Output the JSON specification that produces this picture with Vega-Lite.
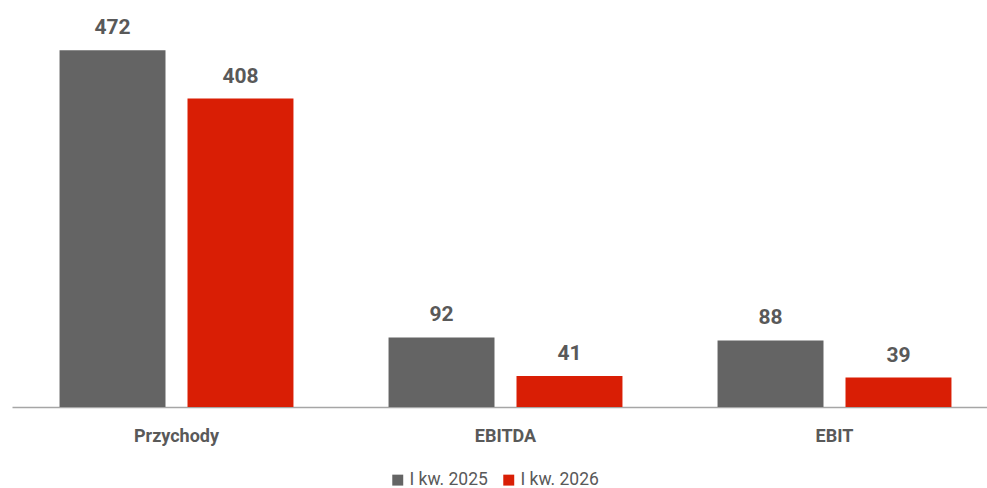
{
  "$schema": "https://vega.github.io/schema/vega-lite/v6.json",
  "autosize": {"type": "none"},
  "width": 975,
  "height": 378,
  "padding": {"left": 12, "top": 29, "right": 0, "bottom": 81},
  "background": "white",
  "config": {"view": {"stroke": null}, "font": "Roboto"},
  "data": {"values": [
    {"kategoria": "Przychody", "okres": "I kw. 2025", "wartosc": 472},
    {"kategoria": "Przychody", "okres": "I kw. 2026", "wartosc": 408},
    {"kategoria": "EBITDA", "okres": "I kw. 2025", "wartosc": 92},
    {"kategoria": "EBITDA", "okres": "I kw. 2026", "wartosc": 41},
    {"kategoria": "EBIT", "okres": "I kw. 2025", "wartosc": 88},
    {"kategoria": "EBIT", "okres": "I kw. 2026", "wartosc": 39}
  ]},
  "encoding": {
    "x": {"field": "kategoria", "type": "nominal", "sort": ["Przychody", "EBITDA", "EBIT"],
      "scale": {"range": [0, 987], "paddingInner": 0.289, "paddingOuter": 0.1445},
      "axis": {"title": null, "labelAngle": 0, "ticks": false, "domainColor": "#a6a6a6", "domainWidth": 1.5,
        "labelFont": "Roboto", "labelFontWeight": "bold", "labelFontSize": 18, "labelColor": "#595959", "labelPadding": 20}},
    "xOffset": {"field": "okres", "type": "nominal", "scale": {"paddingInner": 0.172, "paddingOuter": 0}},
    "y": {"field": "wartosc", "type": "quantitative", "scale": {"domain": [0, 500]}, "axis": null}
  },
  "layer": [
    {"mark": {"type": "bar"},
     "encoding": {"color": {"field": "okres", "type": "nominal",
       "scale": {"domain": ["I kw. 2025", "I kw. 2026"], "range": ["#646464", "#D91E05"]},
       "legend": {"title": null, "orient": "none", "direction": "horizontal", "legendX": 377, "legendY": 442,
         "symbolType": "square", "symbolSize": 120, "symbolStrokeWidth": 0, "labelFont": "Roboto", "labelFontSize": 17.5,
         "labelColor": "#595959", "columnPadding": 12, "labelOffset": 3, "padding": 0}}}},
    {"mark": {"type": "text", "baseline": "alphabetic", "dy": -16, "font": "Roboto", "fontWeight": "bold", "fontSize": 21, "color": "#595959"},
     "encoding": {"text": {"field": "wartosc", "type": "quantitative"}}}
  ]
}
